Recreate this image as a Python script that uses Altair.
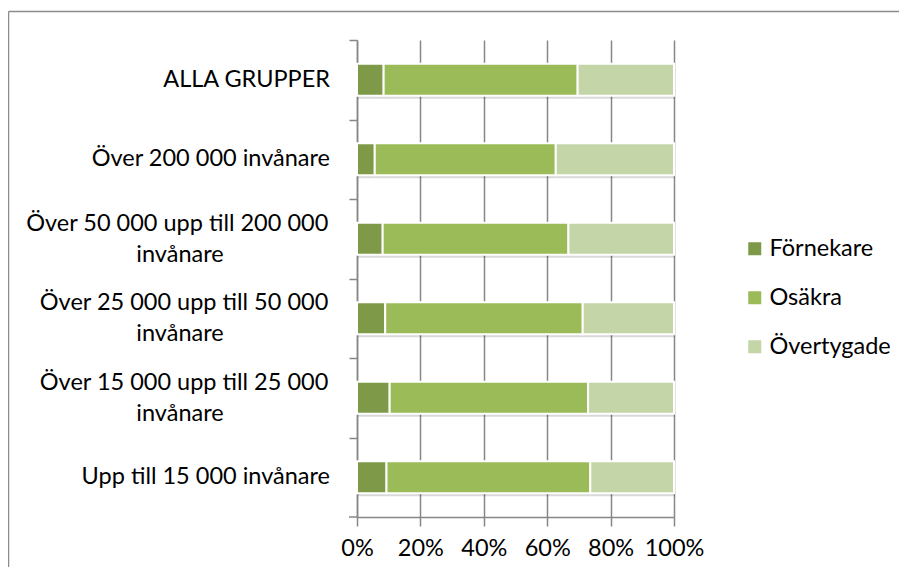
import altair as alt
import pandas as pd

categories = [
    "ALLA GRUPPER",
    "Över 200 000 invånare",
    "Över 50 000 upp till 200 000 invånare",
    "Över 25 000 upp till 50 000 invånare",
    "Över 15 000 upp till 25 000 invånare",
    "Upp till 15 000 invånare",
]
series = ["Förnekare", "Osäkra", "Övertygade"]
fornekare = [8.4, 5.6, 8.1, 8.9, 10.3, 9.3]
osakra = [61.2, 57.1, 58.6, 62.3, 62.6, 64.3]
overtygade = [30.4, 37.3, 33.3, 28.8, 27.1, 26.4]
colors = ["#7E9A48", "#9BBB59", "#C4D6A7"]
x_ticks = [0, 20, 40, 60, 80, 100]

rows = []
for i, c in enumerate(categories):
    for k, (s, vals) in enumerate(zip(series, [fornekare, osakra, overtygade])):
        rows.append({"grupp": c, "serie": s, "andel": vals[i], "ordning": k})
df = pd.DataFrame(rows)
label_df = pd.DataFrame({"grupp": categories})
frame_df = pd.DataFrame({"ram": [0]})

FONT = "Lato"
FS = 23.5
W, H = 317, 477
STEP = H / len(categories)
GRID = "#878787"

y_scale = alt.Scale(domain=categories, paddingInner=0.6, paddingOuter=0.3)
x_scale = alt.Scale(domain=[0, 100], nice=False)

y_axis = alt.Axis(
    title=None,
    labels=False,
    tickOffset=-STEP / 2,
    tickSize=8,
    tickColor=GRID,
    tickWidth=1.5,
    domainColor=GRID,
    domainWidth=1.5,
    grid=False,
)

x_axis = alt.Axis(
    title=None,
    values=x_ticks,
    labelExpr="datum.value + '%'",
    labelOverlap=False,
    labelFlush=False,
    grid=True,
    gridColor=GRID,
    gridWidth=1.5,
    domainColor=GRID,
    domainWidth=1.5,
    tickColor=GRID,
    tickWidth=1.5,
    tickSize=9,
    labelFont=FONT,
    labelFontSize=FS,
    labelColor="black",
    labelPadding=10,
)

Y = alt.Y("grupp:N", sort=categories, scale=y_scale, axis=y_axis)

base = alt.Chart(df)

shadow = base.transform_aggregate(
    total="sum(andel)", groupby=["grupp"]
).mark_bar(color="black", opacity=0.15, yOffset=3, xOffset=1).encode(
    y=Y,
    x=alt.X("total:Q", scale=x_scale, axis=x_axis),
)

bars = base.mark_bar(stroke="white", strokeWidth=2).encode(
    y=Y,
    x=alt.X("andel:Q", stack="zero", scale=x_scale, axis=x_axis),
    color=alt.Color(
        "serie:N",
        scale=alt.Scale(domain=series, range=colors),
        legend=alt.Legend(
            title=None,
            orient="none",
            legendX=386,
            legendY=197,
            symbolType="square",
            symbolSize=169,
            symbolStrokeWidth=0,
            labelFont=FONT,
            labelFontSize=FS,
            labelColor="black",
            labelOffset=3,
            rowPadding=24,
            padding=0,
        ),
    ),
    order=alt.Order("ordning:Q"),
)

# category labels drawn as text beside the y axis
lab = alt.Chart(label_df).transform_calculate(
    two="length(datum.grupp) > 30",
    line1="length(datum.grupp) > 30 ? substring(datum.grupp, 0, lastindexof(datum.grupp, ' ')) : datum.grupp",
    line2="substring(datum.grupp, lastindexof(datum.grupp, ' ') + 1)",
)
text_kw = dict(font=FONT, fontSize=FS, color="black", baseline="middle")

single = lab.transform_filter("!datum.two").mark_text(align="right", **text_kw).encode(
    y=Y, x=alt.value(-27), text="line1:N"
)
first = lab.transform_filter("datum.two").mark_text(align="right", dy=-15, **text_kw).encode(
    y=Y, x=alt.value(-28.7), text="line1:N"
)
second = lab.transform_filter("datum.two").mark_text(align="center", dy=16, **text_kw).encode(
    y=Y, x=alt.value(-177), text="line2:N"
)

# last category tick at the bottom of the y axis
bottom_tick = alt.Chart(frame_df).mark_rule(color=GRID, strokeWidth=1.5).encode(
    x=alt.value(-8), x2=alt.value(0), y=alt.value(H)
)

frame_top = alt.Chart(frame_df).mark_rule(color="#8C8C8C", strokeWidth=1.5).encode(
    x=alt.value(-348.5), x2=alt.value(W + 260), y=alt.value(-28.5)
)
frame_left = alt.Chart(frame_df).mark_rule(color="#8C8C8C", strokeWidth=1.5).encode(
    x=alt.value(-348.5), y=alt.value(-28.5), y2=alt.value(H + 80)
)

chart = (
    alt.layer(shadow, bars, single, first, second, bottom_tick, frame_top, frame_left)
    .properties(
        width=W,
        height=H,
        padding={"left": 349, "top": 32, "right": 225, "bottom": 50},
        autosize=alt.AutoSizeParams(type="none"),
    )
    .configure_view(strokeWidth=0)
)

chart.save("out.html", embed_options={"renderer": "svg", "actions": False})
